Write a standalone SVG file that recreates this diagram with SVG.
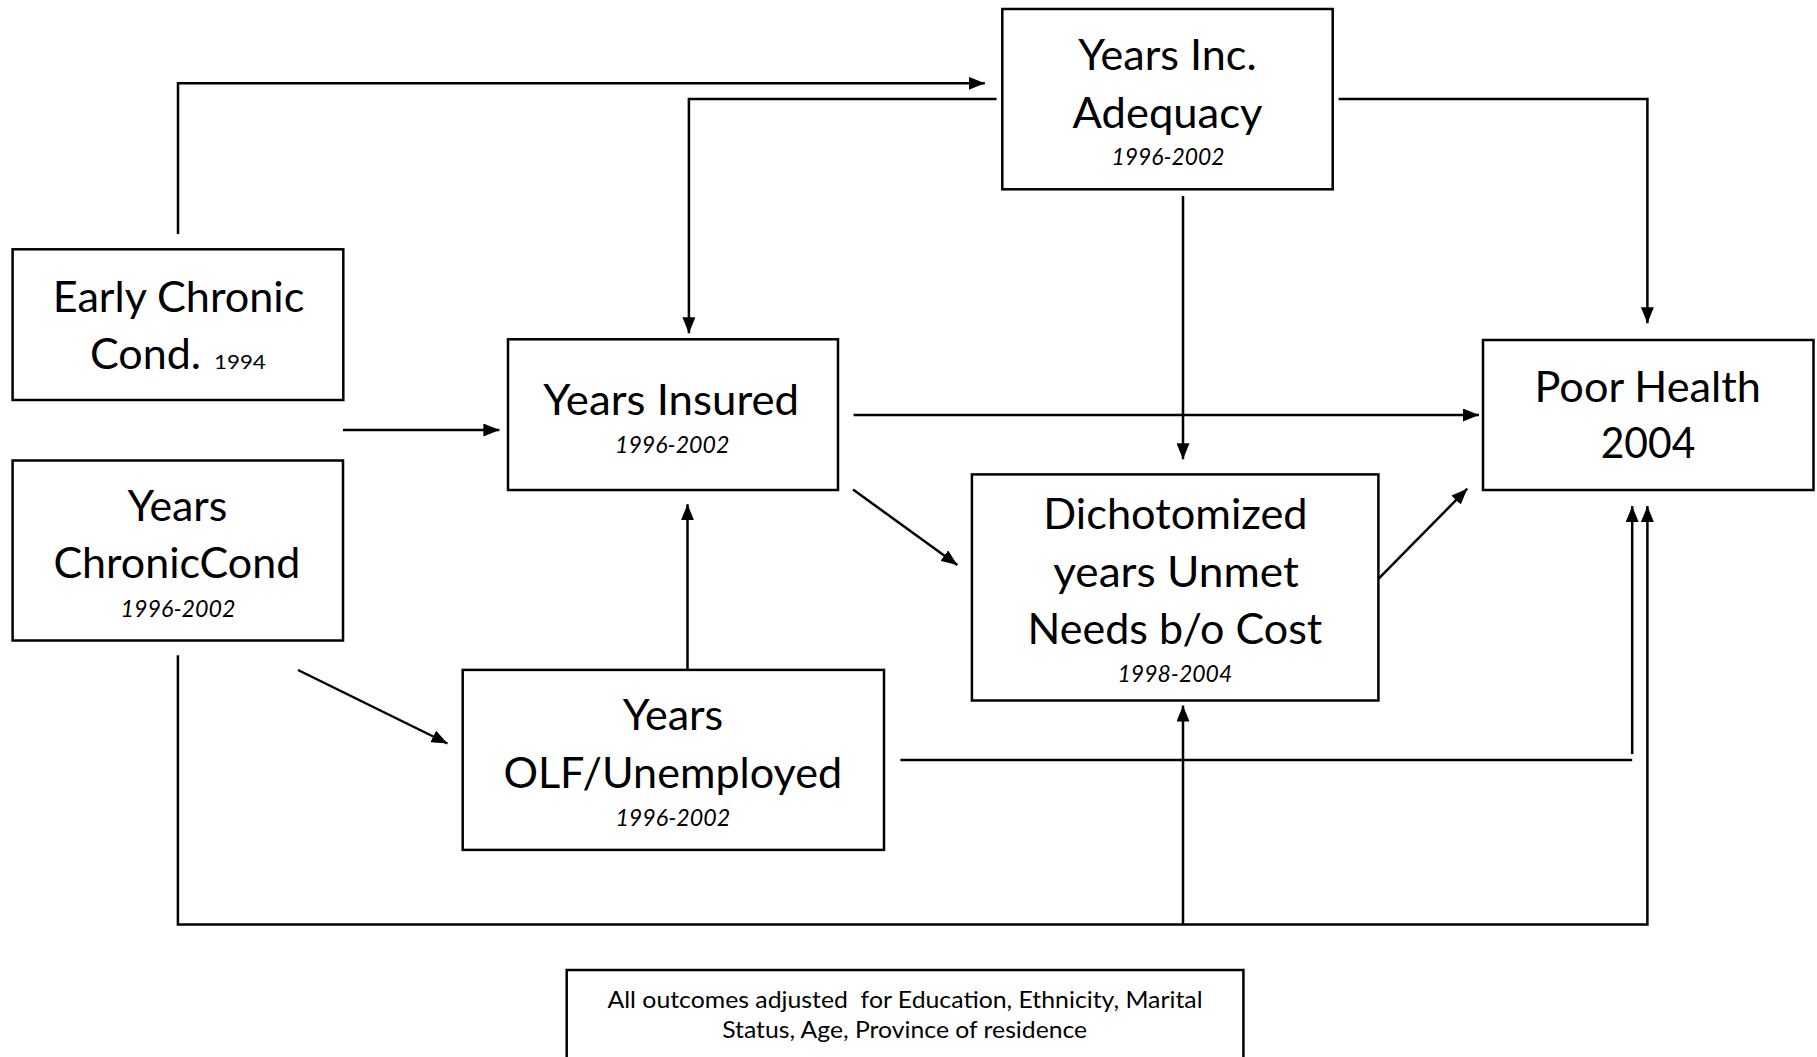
<svg xmlns="http://www.w3.org/2000/svg" width="1817" height="1057" viewBox="0 0 1817 1057">
<defs>
<style>
.box{fill:#fff;stroke:#000;stroke-width:2.5}
.t{font-family:Lato,"Liberation Sans",sans-serif;font-size:43px;fill:#000;text-anchor:middle}
.d{font-family:Lato,"Liberation Sans",sans-serif;font-size:24px;font-style:italic;fill:#000;text-anchor:middle}
.f{font-family:Lato,"Liberation Sans",sans-serif;font-size:23.5px;fill:#000;text-anchor:middle}
.c{fill:none;stroke:#000;stroke-width:2.5}
</style>
<marker id="ah" viewBox="0 0 16 13" refX="16" refY="6.5" markerWidth="16" markerHeight="13" markerUnits="userSpaceOnUse" orient="auto">
<path d="M0,0 L16,6.5 L0,13 z" fill="#000"/>
</marker>
</defs>
<rect width="1817" height="1057" fill="#fff"/>

<g id="connectors">
<path class="c" d="M178,234 V83.3 H984.8" marker-end="url(#ah)"/>
<path class="c" d="M996.5,99 H688.9 V333.3" marker-end="url(#ah)"/>
<path class="c" d="M1338.6,99 H1647.4 V323.3" marker-end="url(#ah)"/>
<path class="c" d="M1183,196 V459.3" marker-end="url(#ah)"/>
<path class="c" d="M343,430 H499.4" marker-end="url(#ah)"/>
<path class="c" d="M853.6,415 H1479" marker-end="url(#ah)"/>
<path class="c" d="M853,489.5 L957.3,565" marker-end="url(#ah)"/>
<path class="c" d="M1378.4,578.9 L1467.3,488.7" marker-end="url(#ah)"/>
<path class="c" d="M687.5,669.9 V504.2" marker-end="url(#ah)"/>
<path class="c" d="M298,670 L447.5,743.5" marker-end="url(#ah)"/>
<path class="c" d="M900.4,760 H1632.2"/>
<path class="c" d="M1632.2,754 V506.1" marker-end="url(#ah)"/>
<path class="c" d="M177.9,655.2 V924.5 H1647.4 V506.1" marker-end="url(#ah)"/>
<path class="c" d="M1183,924.5 V705.5" marker-end="url(#ah)"/>
</g>

<g id="years-inc-adequacy">
<rect class="box" x="1002.3" y="9" width="330.4" height="180.3"/>
<text class="t" x="1167.5" y="70" textLength="178.3" lengthAdjust="spacingAndGlyphs">Years Inc.</text>
<text class="t" x="1167.5" y="128.3" textLength="190" lengthAdjust="spacingAndGlyphs">Adequacy</text>
<text class="d" x="1168" y="165" textLength="113" lengthAdjust="spacingAndGlyphs">1996-2002</text>
</g>

<g id="early-chronic">
<rect class="box" x="12.6" y="249.3" width="330.7" height="150.7"/>
<text class="t" x="178.5" y="311.7" textLength="251.5" lengthAdjust="spacingAndGlyphs">Early Chronic</text>
<text class="t" style="text-anchor:start" x="90" y="369.3"><tspan textLength="111" lengthAdjust="spacingAndGlyphs">Cond.</tspan> <tspan x="214" style="font-size:20px" textLength="51.8" lengthAdjust="spacingAndGlyphs">1994</tspan></text>
</g>

<g id="years-insured">
<rect class="box" x="508" y="339.3" width="330" height="150.7"/>
<text class="t" x="671.2" y="415" textLength="255.7" lengthAdjust="spacingAndGlyphs">Years Insured</text>
<text class="d" x="672.2" y="453.3" textLength="114.3" lengthAdjust="spacingAndGlyphs">1996-2002</text>
</g>

<g id="years-chroniccond">
<rect class="box" x="12.6" y="460.5" width="330.4" height="180"/>
<text class="t" x="177.4" y="520.8" textLength="100" lengthAdjust="spacingAndGlyphs">Years</text>
<text class="t" x="176.8" y="577.8" textLength="246.8" lengthAdjust="spacingAndGlyphs">ChronicCond</text>
<text class="d" x="178" y="616.5" textLength="114.8" lengthAdjust="spacingAndGlyphs">1996-2002</text>
</g>

<g id="years-olf">
<rect class="box" x="462.7" y="669.9" width="421.3" height="180"/>
<text class="t" x="673" y="729.5" textLength="100.5" lengthAdjust="spacingAndGlyphs">Years</text>
<text class="t" x="672.8" y="788" textLength="338.7" lengthAdjust="spacingAndGlyphs">OLF/Unemployed</text>
<text class="d" x="672.8" y="825.5" textLength="114.8" lengthAdjust="spacingAndGlyphs">1996-2002</text>
</g>

<g id="dichotomized-unmet">
<rect class="box" x="971.9" y="474.4" width="406.5" height="226.1"/>
<text class="t" x="1175.5" y="529.4" textLength="264.3" lengthAdjust="spacingAndGlyphs">Dichotomized</text>
<text class="t" x="1176" y="587.4" textLength="245.6" lengthAdjust="spacingAndGlyphs">years Unmet</text>
<text class="t" x="1174.9" y="643.6" textLength="294.7" lengthAdjust="spacingAndGlyphs">Needs b/o Cost</text>
<text class="d" x="1174.9" y="681.5" textLength="114.7" lengthAdjust="spacingAndGlyphs">1998-2004</text>
</g>

<g id="poor-health">
<rect class="box" x="1483" y="340" width="330.5" height="150"/>
<text class="t" x="1647.7" y="401.7" textLength="226.3" lengthAdjust="spacingAndGlyphs">Poor Health</text>
<text class="t" x="1648" y="458.3" textLength="94.7" lengthAdjust="spacingAndGlyphs">2004</text>
</g>

<g id="footnote">
<rect class="box" x="566.7" y="970" width="676.7" height="110"/>
<text class="f" x="905" y="1007.5" textLength="595" lengthAdjust="spacingAndGlyphs">All outcomes adjusted&#160; for Education, Ethnicity, Marital</text>
<text class="f" x="904.7" y="1038" textLength="365" lengthAdjust="spacingAndGlyphs">Status, Age, Province of residence</text>
</g>
</svg>
